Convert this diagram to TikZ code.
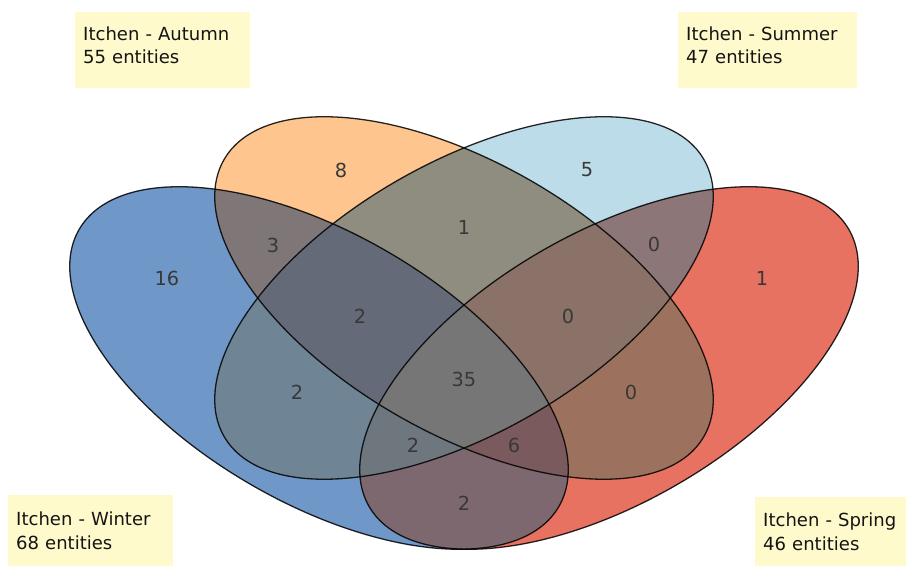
\documentclass[tikz,border=0pt]{standalone}
\usepackage{fontspec}
\setmainfont{DejaVu Sans}
\definecolor{boxyellow}{HTML}{FFFACB}
\definecolor{cW}{HTML}{6F97C8}
\definecolor{cA}{HTML}{FEC58E}
\definecolor{cSu}{HTML}{BDDCEA}
\definecolor{cSp}{HTML}{E87262}
\definecolor{cWA}{HTML}{7F7777}
\definecolor{cWSu}{HTML}{6F8494}
\definecolor{cWSp}{HTML}{7E6870}
\definecolor{cASu}{HTML}{8F8D80}
\definecolor{cASp}{HTML}{9C725F}
\definecolor{cSuSp}{HTML}{8D7677}
\definecolor{cWASu}{HTML}{646A78}
\definecolor{cWASp}{HTML}{7A5A5C}
\definecolor{cWSuSp}{HTML}{6E767E}
\definecolor{cASuSp}{HTML}{8A7268}
\definecolor{cAll}{HTML}{767676}
\newcommand{\winterellipse}[1]{\path[#1,rotate around={-30:(9.57,5.94)}] (9.57,5.94) ellipse[x radius=8.31,y radius=4.05];}
\newcommand{\springellipse}[1]{\path[#1,rotate around={30:(18.27,5.94)}] (18.27,5.94) ellipse[x radius=8.31,y radius=4.05];}
\newcommand{\autumnellipse}[1]{\path[#1,rotate around={-30:(13.92,8.04)}] (13.92,8.04) ellipse[x radius=8.31,y radius=4.05];}
\newcommand{\summerellipse}[1]{\path[#1,rotate around={30:(13.92,8.04)}] (13.92,8.04) ellipse[x radius=8.31,y radius=4.05];}
\tikzset{
	outline/.style={draw=black,draw opacity=0.85,line width=1.1pt},
	regionnum/.style={font=\fontsize{16.5}{20}\selectfont,text=black!78},
	infobox/.style={fill=boxyellow,anchor=north west,align=left,inner xsep=0.24cm,text=black!92,font=\fontsize{15.4}{20.4}\selectfont}
}
\begin{document}
\begin{tikzpicture}
	\useasboundingbox (0,0) rectangle (27.18,16.98);
	\fill[color=white] (0,0) rectangle (27.18,16.98);
	\winterellipse{fill=cW}
	\springellipse{fill=cSp}
	\autumnellipse{fill=cA}
	\summerellipse{fill=cSu}
	\begin{scope}\winterellipse{clip}\autumnellipse{fill=cWA}\end{scope}
	\begin{scope}\winterellipse{clip}\summerellipse{fill=cWSu}\end{scope}
	\begin{scope}\winterellipse{clip}\springellipse{fill=cWSp}\end{scope}
	\begin{scope}\autumnellipse{clip}\summerellipse{fill=cASu}\end{scope}
	\begin{scope}\autumnellipse{clip}\springellipse{fill=cASp}\end{scope}
	\begin{scope}\summerellipse{clip}\springellipse{fill=cSuSp}\end{scope}
	\begin{scope}\winterellipse{clip}\autumnellipse{clip}\summerellipse{fill=cWASu}\end{scope}
	\begin{scope}\winterellipse{clip}\autumnellipse{clip}\springellipse{fill=cWASp}\end{scope}
	\begin{scope}\winterellipse{clip}\summerellipse{clip}\springellipse{fill=cWSuSp}\end{scope}
	\begin{scope}\autumnellipse{clip}\summerellipse{clip}\springellipse{fill=cASuSp}\end{scope}
	\begin{scope}\winterellipse{clip}\autumnellipse{clip}\summerellipse{clip}\springellipse{fill=cAll}\end{scope}
	\winterellipse{outline}
	\springellipse{outline}
	\autumnellipse{outline}
	\summerellipse{outline}
	\node[regionnum] (winteronly) at (5.01,8.64) {16};
	\node[regionnum] (autumnonly) at (10.23,11.88) {8};
	\node[regionnum] (summeronly) at (17.61,11.88) {5};
	\node[regionnum] (springonly) at (22.86,8.64) {1};
	\node[regionnum] (winterautumn) at (8.19,9.63) {3};
	\node[regionnum] (autumnsummer) at (13.92,10.17) {1};
	\node[regionnum] (summerspring) at (19.62,9.66) {0};
	\node[regionnum] (winterautumnsummer) at (10.80,7.50) {2};
	\node[regionnum] (autumnsummerspring) at (17.04,7.50) {0};
	\node[regionnum] (wintersummer) at (8.91,5.22) {2};
	\node[regionnum] (allfour) at (13.92,5.61) {35};
	\node[regionnum] (autumnspring) at (18.93,5.22) {0};
	\node[regionnum] (wintersummerspring) at (12.39,3.63) {2};
	\node[regionnum] (winterautumnspring) at (15.42,3.63) {6};
	\node[regionnum] (winterspring) at (13.92,1.89) {2};
	\node[infobox,minimum width=5.25cm,minimum height=2.28cm,text width=4.77cm,text depth=1.02cm] (autumnbox) at (2.25,16.62) {Itchen - Autumn\\55 entities};
	\node[infobox,minimum width=5.37cm,minimum height=2.28cm,text width=4.89cm,text depth=1.02cm] (summerbox) at (20.34,16.62) {Itchen - Summer\\47 entities};
	\node[infobox,minimum width=4.95cm,minimum height=2.13cm,text width=4.47cm] (winterbox) at (0.24,2.13) {Itchen - Winter\\68 entities};
	\node[infobox,minimum width=4.8cm,minimum height=2.07cm,text width=4.32cm] (springbox) at (22.65,2.07) {Itchen - Spring\\46 entities};
\end{tikzpicture}
\end{document}
